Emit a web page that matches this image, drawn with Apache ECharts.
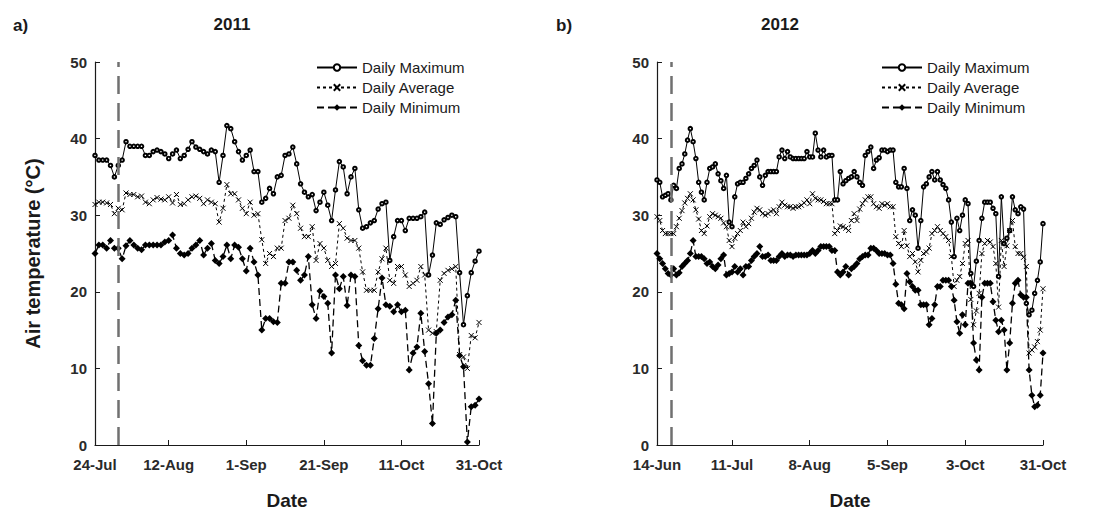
<!DOCTYPE html>
<html>
<head>
<meta charset="utf-8">
<script src="https://cdn.jsdelivr.net/npm/echarts@6/dist/echarts.min.js"></script>
<style>
  html, body { margin: 0; padding: 0; background: #fff; }
  #chart { width: 1108px; height: 516px; }
</style>
</head>
<body>
<div id="chart"></div>
<script>
// ---- 2011 season: daily air temperature (°C), 24-Jul .. 31-Oct ----
const ticks2011 = [0, 19, 39, 59, 79, 99];
const tickLabels2011 = ['24-Jul', '12-Aug', '1-Sep', '21-Sep', '11-Oct', '31-Oct'];
const marker2011 = 6;

const max2011 = [
  37.8, 37.2, 37.2, 37.2, 36.5, 35.0, 36.5, 37.2, 39.6, 39.0,
  39.0, 39.0, 39.0, 37.8, 37.8, 38.3, 38.5, 38.3, 38.0, 37.4,
  38.0, 38.5, 37.4, 37.8, 38.6, 39.6, 38.9, 38.6, 38.3, 38.0,
  38.5, 38.3, 34.3, 37.8, 41.7, 41.3, 39.6, 38.3, 37.2, 37.8,
  38.5, 35.7, 35.7, 31.7, 32.2, 33.5, 32.8, 35.0, 35.2, 37.8,
  38.0, 38.9, 36.7, 34.1, 33.0, 32.4, 32.7, 30.6, 31.7, 33.0,
  31.3, 29.3, 33.3, 37.0, 36.3, 32.8, 35.0, 36.1, 30.7, 28.3,
  28.5, 29.0, 29.3, 30.8, 31.5, 31.7, 24.1, 27.2, 29.3, 29.3,
  28.0, 29.6, 29.6, 29.6, 29.8, 30.4, 22.2, 24.8, 29.0, 28.8,
  29.4, 29.7, 30.0, 29.8, 22.5, 15.7, 19.5, 22.5, 24.0, 25.3
];
const avg2011 = [
  31.4, 31.7, 31.7, 31.6, 31.4, 30.2, 30.9, 30.7, 32.9, 32.7,
  32.7, 32.4, 32.5, 31.7, 31.5, 32.0, 32.3, 32.1, 32.0, 32.4,
  31.6, 32.7, 31.4, 31.5, 32.0, 32.4, 32.5, 32.2, 31.5, 32.0,
  31.7, 31.5, 29.1, 30.9, 34.0, 32.8, 32.8, 32.0, 30.9, 30.2,
  31.7, 30.0, 30.2, 26.8, 23.7, 25.0, 24.6, 25.7, 25.7, 29.3,
  29.6, 31.3, 30.2, 28.3, 27.2, 27.2, 28.5, 24.1, 26.3, 25.7,
  24.1, 23.3, 23.7, 28.9, 28.3, 27.0, 26.7, 26.7, 25.7, 22.6,
  20.2, 20.2, 20.2, 22.6, 24.3, 25.7, 21.5, 21.1, 23.3, 23.3,
  22.2, 20.7, 21.1, 21.5, 23.3, 22.2, 15.0, 14.6, 14.8, 21.5,
  22.4, 22.8, 23.0, 23.3, 11.8, 11.5, 10.0, 14.3, 14.0, 16.0
];
const min2011 = [
  25.0, 26.1, 26.1, 25.7, 26.7, 25.7, 25.7, 24.3, 26.0, 26.7,
  26.1, 25.7, 25.5, 26.1, 26.1, 26.1, 26.1, 26.1, 26.5, 26.7,
  27.4, 25.7, 25.0, 24.8, 25.0, 25.7, 26.1, 26.7, 24.8, 25.7,
  26.3, 24.1, 23.7, 24.6, 26.1, 24.3, 26.1, 25.8, 24.3, 22.7,
  25.7, 23.9, 22.2, 15.0, 16.5, 16.5, 16.1, 16.0, 21.1, 21.1,
  23.9, 23.9, 22.8, 21.5, 22.2, 24.6, 18.3, 16.5, 20.1, 19.4,
  18.5, 12.0, 22.2, 20.4, 22.0, 18.2, 22.2, 22.0, 13.0, 11.0,
  10.4, 10.4, 13.9, 17.8, 21.8, 18.3, 18.1, 17.4, 18.3, 17.4,
  17.6, 9.8, 12.0, 12.8, 17.2, 12.2, 8.0, 2.8, 14.6, 15.0,
  16.0, 16.7, 17.0, 18.9, 11.7, 10.2, 0.4, 5.0, 5.2, 6.0
];

// ---- 2012 season: daily air temperature (°C), 14-Jun .. 31-Oct ----
const ticks2012 = [0, 27, 55, 83, 111, 139];
const tickLabels2012 = ['14-Jun', '11-Jul', '8-Aug', '5-Sep', '3-Oct', '31-Oct'];
const marker2012 = 5;

const max2012 = [
  34.6, 34.3, 32.4, 32.6, 32.8, 32.0, 33.9, 33.5, 36.1, 36.7,
  38.0, 39.8, 41.3, 39.6, 37.4, 34.3, 33.0, 32.0, 34.3, 36.1,
  36.3, 36.7, 35.4, 34.5, 33.5, 35.2, 29.1, 28.5, 32.4, 34.1,
  34.3, 34.3, 34.8, 35.4, 36.1, 36.5, 37.2, 35.0, 33.9, 35.2,
  35.7, 35.7, 35.7, 35.7, 37.6, 38.5, 37.4, 38.3, 37.6, 37.4,
  37.4, 37.4, 37.4, 37.4, 38.3, 37.6, 37.6, 40.7, 38.5, 37.6,
  38.5, 37.6, 37.8, 37.8, 32.0, 32.0, 35.7, 34.1, 34.5, 34.8,
  35.0, 35.7, 35.0, 34.3, 33.9, 37.8, 38.3, 38.9, 36.1, 37.2,
  37.5, 38.5, 38.5, 38.3, 38.5, 38.5, 34.3, 33.7, 33.7, 36.1,
  33.5, 29.3, 30.7, 30.0, 25.7, 29.3, 33.7, 34.1, 35.0, 35.7,
  34.6, 35.7, 34.6, 34.0, 33.5, 32.0, 29.1, 24.6, 29.6, 28.0,
  30.0, 32.0, 31.5, 22.4, 20.7, 24.0, 26.7, 29.6, 31.7, 31.7,
  31.7, 30.9, 30.2, 22.0, 32.4, 26.3, 27.0, 28.0, 32.4, 30.7,
  30.2, 31.1, 30.8, 18.5, 17.0, 17.6, 19.8, 21.5, 23.9, 28.9
];
const avg2012 = [
  29.8, 29.3, 28.0, 27.6, 27.6, 27.6, 27.6, 28.5, 29.6, 30.6,
  31.6, 32.2, 32.8, 32.0, 30.7, 29.5, 28.0, 27.6, 28.6, 29.8,
  30.2, 30.0, 29.8, 29.6, 29.0, 28.5, 26.7, 25.9, 27.0, 27.6,
  28.0, 29.1, 28.5, 28.9, 29.6, 30.4, 30.9, 30.7, 30.2, 30.0,
  30.2, 30.5, 30.7, 30.2, 31.1, 31.7, 31.3, 31.1, 31.1, 30.9,
  31.1, 31.1, 31.3, 31.6, 32.0, 31.5, 32.8, 32.2, 32.0, 32.0,
  31.8, 31.5, 31.5, 31.5, 27.6, 28.0, 28.6, 28.5, 28.3, 28.0,
  29.3, 30.2, 29.3, 30.8, 31.5, 32.0, 32.4, 32.4, 31.5, 31.1,
  30.9, 31.5, 31.3, 31.5, 31.1, 31.1, 27.2, 26.3, 25.9, 28.0,
  26.0, 24.6, 25.0, 23.9, 22.6, 24.1, 25.0, 25.2, 25.7, 27.6,
  28.0, 28.5, 28.0, 27.6, 27.2, 26.7, 24.6, 20.7, 21.5, 22.0,
  23.7, 26.3, 26.7, 19.0, 15.7, 17.5, 19.8, 25.0, 26.3, 26.7,
  26.5, 25.9, 23.7, 18.0, 26.7, 23.3, 26.0, 28.0, 29.3, 25.9,
  25.0, 25.0, 24.5, 23.3, 12.0, 12.4, 12.8, 13.5, 15.0, 20.4
];
const min2012 = [
  25.0, 24.3, 23.7, 23.0, 22.4, 22.2, 23.0, 22.2, 22.5, 23.3,
  23.7, 24.1, 25.0, 26.7, 24.6, 24.6, 24.6, 24.3, 23.7, 23.9,
  23.3, 23.0, 23.5, 24.3, 24.8, 22.2, 22.4, 22.6, 23.3, 22.6,
  23.0, 22.2, 23.3, 23.3, 24.1, 24.6, 25.0, 25.9, 24.6, 24.6,
  24.8, 24.1, 24.1, 24.1, 24.6, 25.0, 24.6, 24.8, 24.8, 24.6,
  24.8, 24.8, 24.8, 24.8, 24.8, 25.0, 25.4, 25.0, 25.4, 25.9,
  25.9, 25.9, 25.9, 25.4, 25.4, 22.6, 22.2, 22.6, 23.3, 22.2,
  23.0, 23.3, 23.7, 24.3, 24.6, 24.8, 24.8, 25.7, 25.7, 25.4,
  25.0, 25.0, 25.0, 24.8, 24.8, 23.7, 21.0, 18.5, 18.3, 17.8,
  22.4, 21.3, 20.7, 20.2, 20.2, 18.3, 18.3, 18.3, 15.7, 16.5,
  18.3, 20.7, 20.7, 21.5, 21.5, 21.5, 20.7, 18.9, 16.1, 14.6,
  17.0, 15.7, 21.1, 21.1, 13.3, 11.1, 9.8, 19.3, 21.1, 21.1,
  21.1, 18.7, 16.3, 14.8, 16.3, 15.0, 9.8, 13.3, 18.5, 21.1,
  21.5, 19.6, 19.3, 19.3, 9.8, 6.5, 5.0, 5.2, 6.5, 12.0
];

// ---- layout & styling ----
const INK = '#1a1a1a';
const FONT = '"Liberation Sans", Arial, sans-serif';
const crossPath = 'path://M0,0L10,10M10,0L0,10';

const panels = [
  { left: 95, width: 384, ticks: ticks2011, labels: tickLabels2011, marker: marker2011,
    max: max2011, avg: avg2011, min: min2011, yName: 'Air temperature (°C)', legendLeft: 311 },
  { left: 657, width: 386, ticks: ticks2012, labels: tickLabels2012, marker: marker2012,
    max: max2012, avg: avg2012, min: min2012, yName: '', legendLeft: 876 }
];

const toPoints = arr => arr.map((v, i) => [i, v]);

const grid = [], xAxis = [], yAxis = [], series = [], legend = [];

panels.forEach((p, k) => {
  grid.push({ left: p.left, top: 62, width: p.width, height: 383, containLabel: false });

  const labelMap = {};
  p.ticks.forEach((t, i) => { labelMap[t] = p.labels[i]; });

  xAxis.push({
    gridIndex: k, type: 'value', min: 0, max: p.ticks[p.ticks.length - 1],
    name: 'Date', nameLocation: 'middle', nameGap: 46,
    nameTextStyle: { fontFamily: FONT, fontSize: 19, fontWeight: 'bold', color: INK },
    axisLine: { onZero: false, lineStyle: { color: INK, width: 1.2 } },
    axisTick: { inside: true, length: 5, customValues: p.ticks, lineStyle: { color: INK } },
    axisLabel: {
      customValues: p.ticks, margin: 12,
      formatter: v => labelMap[v] || '',
      fontFamily: FONT, fontSize: 15, fontWeight: 'bold', color: '#2a2a2a'
    },
    splitLine: { show: false }
  });

  yAxis.push({
    gridIndex: k, type: 'value', min: 0, max: 50, interval: 10,
    name: p.yName, nameLocation: 'middle', nameGap: 52, nameRotate: 90,
    nameTextStyle: { fontFamily: FONT, fontSize: 20, fontWeight: 'bold', color: INK },
    axisLine: { show: true, lineStyle: { color: INK, width: 1.2 } },
    axisTick: { show: true, inside: true, length: 5, lineStyle: { color: INK } },
    axisLabel: { margin: 8, fontFamily: FONT, fontSize: 15, fontWeight: 'bold', color: '#2a2a2a' },
    splitLine: { show: false }
  });

  const base = { type: 'line', xAxisIndex: k, yAxisIndex: k, showAllSymbol: true,
                 animation: false, silent: true };

  series.push(Object.assign({}, base, {
    name: 'Daily Maximum', data: toPoints(p.max),
    symbol: 'emptyCircle', symbolSize: 3.5,
    lineStyle: { color: '#000', width: 1, type: 'solid' },
    itemStyle: { color: '#000', borderColor: '#000', borderWidth: 0.9 },
    markLine: {
      silent: true, symbol: 'none', label: { show: false },
      lineStyle: { color: '#707070', width: 2.5, type: [18, 9] },
      data: [{ xAxis: p.marker }]
    }
  }));
  series.push(Object.assign({}, base, {
    name: 'Daily Average', data: toPoints(p.avg),
    symbol: crossPath, symbolSize: 5,
    lineStyle: { color: '#000', width: 1, type: [3, 3] },
    itemStyle: { color: '#000', borderColor: '#000', borderWidth: 1 }
  }));
  series.push(Object.assign({}, base, {
    name: 'Daily Minimum', data: toPoints(p.min),
    symbol: 'diamond', symbolSize: 7,
    lineStyle: { color: '#000', width: 1.3, type: [7, 4] },
    itemStyle: { color: '#000' }
  }));

  legend.push({
    orient: 'vertical', left: p.legendLeft, top: 55,
    itemWidth: 40, itemHeight: 8, itemGap: 5,
    selectedMode: false,
    data: ['Daily Maximum', 'Daily Average', 'Daily Minimum'],
    textStyle: { fontFamily: FONT, fontSize: 15, color: INK }
  });
});

const option = {
  backgroundColor: '#fff',
  animation: false,
  grid, xAxis, yAxis, series, legend,
  title: [
    { text: '2011', left: 227, top: 11, textAlign: 'center',
      textStyle: { fontFamily: FONT, fontSize: 17, fontWeight: 'bold', color: INK } },
    { text: '2012', left: 775, top: 11, textAlign: 'center',
      textStyle: { fontFamily: FONT, fontSize: 17, fontWeight: 'bold', color: INK } },
    { text: 'a)', left: 8, top: 12,
      textStyle: { fontFamily: FONT, fontSize: 17, fontWeight: 'bold', color: INK } },
    { text: 'b)', left: 551, top: 12,
      textStyle: { fontFamily: FONT, fontSize: 17, fontWeight: 'bold', color: INK } }
  ]
};

const chart = echarts.init(document.getElementById('chart'), null, { renderer: 'svg' });
chart.setOption(option);
</script>
</body>
</html>
